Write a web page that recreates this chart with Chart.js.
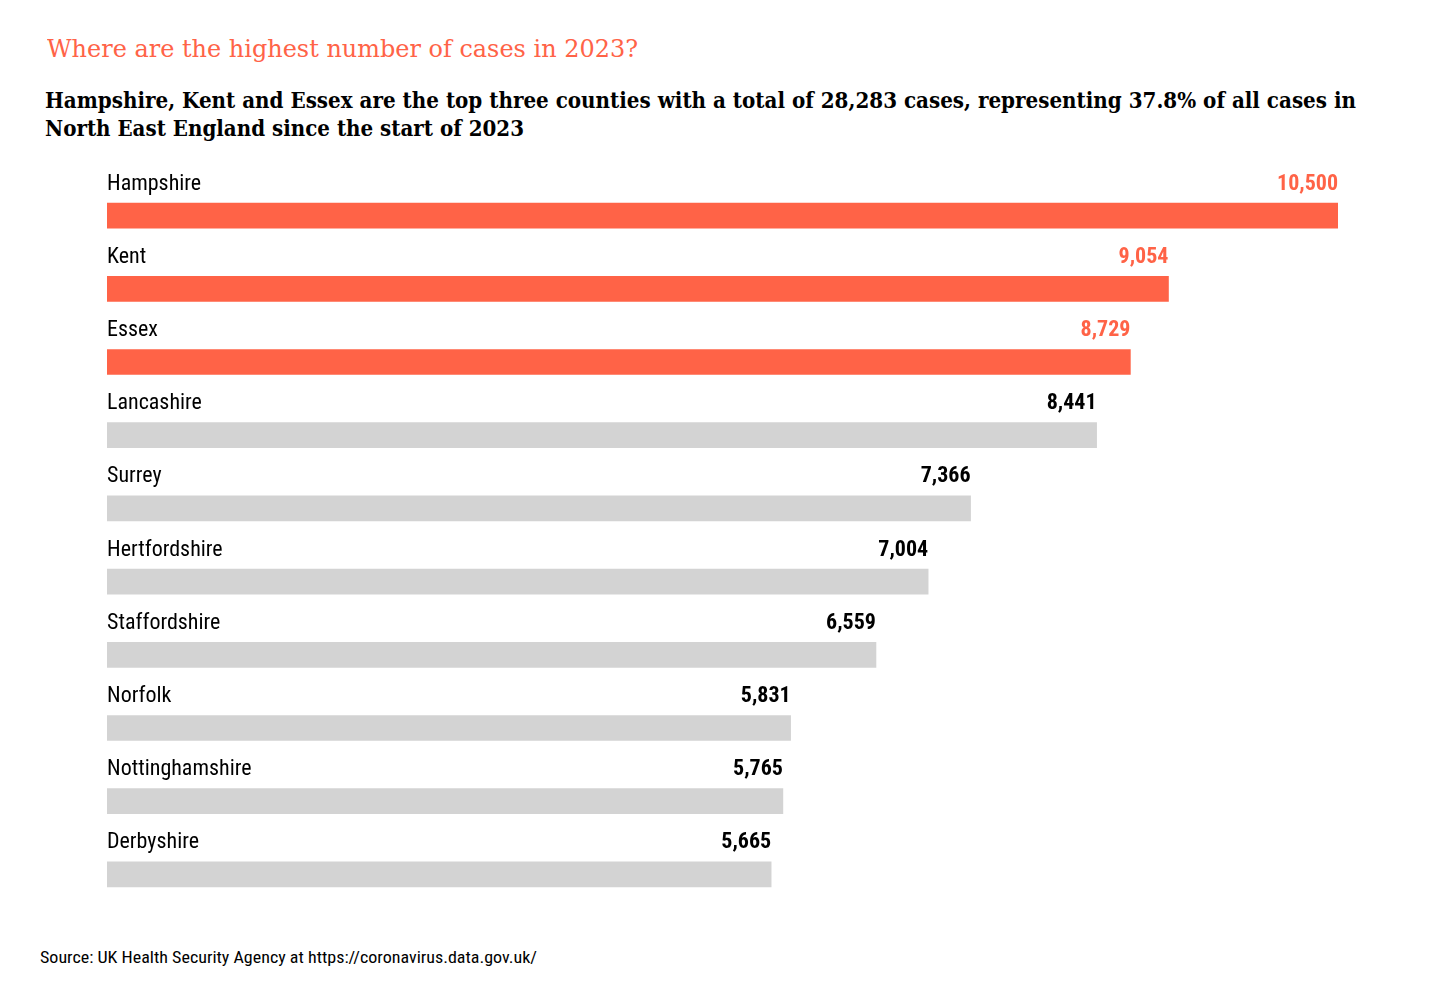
<!DOCTYPE html>
<html>
<head>
<meta charset="utf-8">
<script src="https://cdn.jsdelivr.net/npm/chart.js@4"></script>
<style>
  html, body { margin: 0; padding: 0; background: #ffffff; }
  #wrap { position: relative; width: 1440px; height: 1008px; overflow: hidden; }
  .txt { position: absolute; white-space: nowrap; transform-origin: 0 0; }
  #title { left: 47px; top: 34px; font-family: "Roboto Slab", "DejaVu Serif", serif; font-size: 25px; color: #ff6347; font-weight: 300; }
  .sub { left: 45px; font-family: "Roboto Slab", "DejaVu Serif", serif; font-size: 22px; font-weight: 700; color: #000; }
  #sub1 { top: 87px; }
  #sub2 { top: 115px; }
  #source { left: 40px; top: 947px; font-family: "Roboto Condensed", Roboto, sans-serif; font-size: 17px; color: #000; }
  canvas { position: absolute; left: 0; top: 0; }
</style>
</head>
<body>
<div id="wrap">
  <div class="txt" id="title" data-w="591">Where are the highest number of cases in 2023?</div>
  <div class="txt sub" id="sub1" data-w="1311">Hampshire, Kent and Essex are the top three counties with a total of 28,283 cases, representing 37.8% of all cases in</div>
  <div class="txt sub" id="sub2" data-w="479">North East England since the start of 2023</div>
  <div class="txt" id="source" data-w="497">Source: UK Health Security Agency at https://coronavirus.data.gov.uk/</div>
  <canvas id="c" width="1440" height="1008"></canvas>
</div>
<script>
// ---- data ----
const counties = ["Hampshire", "Kent", "Essex", "Lancashire", "Surrey", "Hertfordshire", "Staffordshire", "Norfolk", "Nottinghamshire", "Derbyshire"];
const cases = [10500, 9054, 8729, 8441, 7366, 7004, 6559, 5831, 5765, 5665];
const highlightCount = 3;

// ---- styles ----
const HIGHLIGHT = "#ff6347";
const MUTED = "#d3d3d3";
const barColors = counties.map((_, i) => i < highlightCount ? HIGHLIGHT : MUTED);
const valueColors = counties.map((_, i) => i < highlightCount ? HIGHLIGHT : "#000000");

// fit header/footer text widths
document.querySelectorAll('.txt').forEach(el => {
  const target = parseFloat(el.dataset.w);
  const w = el.getBoundingClientRect().width;
  if (w > 0) el.style.transform = 'scaleX(' + (target / w) + ')';
});

const labelPlugin = {
  id: 'barLabels',
  afterDatasetsDraw(chart) {
    const ctx = chart.ctx;
    const meta = chart.getDatasetMeta(0);
    const area = chart.chartArea;
    meta.data.forEach((bar, i) => {
      const y = bar.y - 26;
      ctx.save();
      ctx.font = '400 22px "Roboto Condensed", Roboto, sans-serif';
      ctx.fillStyle = '#000';
      ctx.textBaseline = 'alphabetic';
      ctx.textAlign = 'left';
      ctx.fillText(chart.data.labels[i], area.left, y);
      ctx.font = '700 22px "Roboto Condensed", Roboto, sans-serif';
      ctx.fillStyle = valueColors[i];
      ctx.textAlign = 'right';
      ctx.fillText(cases[i].toLocaleString('en-GB'), bar.x, y);
      ctx.restore();
    });
  }
};

new Chart(document.getElementById('c'), {
  type: 'bar',
  data: {
    labels: counties,
    datasets: [{
      data: cases,
      backgroundColor: barColors,
      borderWidth: 0,
      barThickness: 25
    }]
  },
  options: {
    indexAxis: 'y',
    responsive: false,
    animation: false,
    layout: { padding: { left: 107, right: 102, top: 179, bottom: 97 } },
    scales: {
      x: { display: false, min: 0, max: 10500 },
      y: { display: false }
    },
    plugins: {
      legend: { display: false },
      tooltip: { enabled: false }
    }
  },
  plugins: [labelPlugin]
});
</script>
</body>
</html>
